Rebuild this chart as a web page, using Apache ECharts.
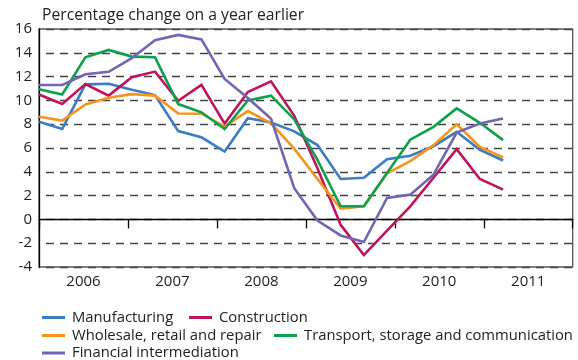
<!DOCTYPE html>
<html>
<head>
<meta charset="utf-8">
<script src="https://cdn.jsdelivr.net/npm/echarts@6/dist/echarts.min.js"></script>
<style>
  html, body { margin: 0; padding: 0; background: #fff; }
  #chart { width: 578px; height: 360px; }
</style>
</head>
<body>
<div id="chart"></div>
<script>
// Quarterly growth by sector, 2006 Q1 – 2011 Q1
const years = ['2006', '2007', '2008', '2009', '2010', '2011'];
const quarters = [
  '2006 Q1', '2006 Q2', '2006 Q3', '2006 Q4',
  '2007 Q1', '2007 Q2', '2007 Q3', '2007 Q4',
  '2008 Q1', '2008 Q2', '2008 Q3', '2008 Q4',
  '2009 Q1', '2009 Q2', '2009 Q3', '2009 Q4',
  '2010 Q1', '2010 Q2', '2010 Q3', '2010 Q4',
  '2011 Q1'
];
const yTicks = { min: -4, max: 16, step: 2 };

const manufacturing = [8.2, 7.6, 11.35, 11.4, 10.9, 10.45, 7.42, 6.9, 5.7, 8.5, 8.15, 7.4, 6.25, 3.4, 3.5, 5.05, 5.35, 6.15, 7.36, 5.85, 4.95];
const construction = [10.5, 9.7, 11.38, 10.4, 11.95, 12.42, 9.97, 11.3, 8.05, 10.7, 11.6, 8.7, 4.3, -0.45, -3.0, -0.95, 1.1, 3.5, 5.9, 3.4, 2.5];
const wholesale = [8.62, 8.3, 9.66, 10.22, 10.53, 10.4, 8.9, 8.88, 7.8, 9.1, 8.07, 5.95, 3.4, 0.9, 1.1, 3.87, 4.9, 6.24, 8.0, 6.1, 5.2];
const transport = [10.93, 10.5, 13.62, 14.24, 13.68, 13.62, 9.69, 9.0, 7.6, 10.0, 10.4, 8.4, 5.0, 1.1, 1.1, 3.9, 6.7, 7.78, 9.33, 8.12, 6.66];
const financial = [11.3, 11.3, 12.2, 12.4, 13.55, 15.05, 15.5, 15.13, 11.8, 10.2, 8.45, 2.62, -0.1, -1.35, -1.9, 1.8, 2.08, 3.76, 7.3, 8.06, 8.48];

const seriesDefs = [
  { name: 'Manufacturing', values: manufacturing, color: '#3a7dc6' },
  { name: 'Construction', values: construction, color: '#c0135c' },
  { name: 'Wholesale, retail and repair', values: wholesale, color: '#f7941d' },
  { name: 'Transport, storage and communication', values: transport, color: '#0ea04b' },
  { name: 'Financial intermediation', values: financial, color: '#7166b4' }
];

const FONT = '"Open Sans", "Noto Sans", sans-serif';
const TEXT = '#222';

const chart = echarts.init(document.getElementById('chart'), null, { renderer: 'canvas' });

// one legend per entry so each can sit in its own row / column
const legendSlots = [
  { left: 42, top: 310 },
  { left: 189, top: 310 },
  { left: 42, top: 328 },
  { left: 274, top: 328 },
  { left: 42, top: 345.5 }
];
const legends = seriesDefs.map((s, i) => ({
  data: [s.name],
  left: legendSlots[i].left,
  top: legendSlots[i].top,
  padding: 0,
  icon: 'rect',
  itemWidth: 23,
  itemHeight: 3,
  selectedMode: false,
  textStyle: { fontFamily: FONT, fontSize: 14.8, color: TEXT, padding: [0, 0, 0, 2] }
}));

const series = seriesDefs.map((s, i) => ({
  name: s.name,
  type: 'line',
  xAxisIndex: 1,
  yAxisIndex: 0,
  // x = quarter index on the hidden linear axis
  data: s.values.map((v, k) => [k, v]),
  showSymbol: false,
  symbol: 'none',
  lineStyle: { color: s.color, width: 2.6, join: 'miter' },
  itemStyle: { color: s.color },
  z: 3 + i,
  animation: false,
  markLine: i === 0 ? {
    silent: true,
    symbol: 'none',
    label: { show: false },
    lineStyle: { color: '#000', type: 'solid', width: 1 },
    data: [{ yAxis: 0 }],
    z: 2
  } : undefined
}));

chart.setOption({
  animation: false,
  title: {
    text: 'Percentage change on a year earlier',
    left: 37,
    top: 3,
    textStyle: { fontFamily: FONT, fontSize: 15.7, fontWeight: 'normal', color: TEXT }
  },
  legend: legends,
  grid: {
    left: 39, right: 5.3, top: 29, bottom: 93,
    show: true, borderColor: '#555', borderWidth: 1.3, backgroundColor: 'transparent'
  },
  xAxis: [
    {
      type: 'category',
      data: years,
      boundaryGap: true,
      axisLine: { lineStyle: { color: '#000', width: 1.3 } },
      axisTick: { show: true, inside: false, length: 9, lineStyle: { color: '#000', width: 1.3 } },
      axisLabel: { fontFamily: FONT, fontSize: 15, color: TEXT, margin: 7 },
      splitLine: { show: false }
    },
    {
      // quarters span the full width: 21 points plus two empty quarters of 2011
      type: 'value',
      min: 0,
      max: quarters.length + 2,
      show: false
    }
  ],
  yAxis: {
    type: 'value',
    min: yTicks.min,
    max: yTicks.max,
    interval: yTicks.step,
    axisLine: { show: true, lineStyle: { color: '#000', width: 1.3 } },
    axisTick: { show: false },
    axisLabel: { fontFamily: FONT, fontSize: 15, color: TEXT, margin: 7 },
    splitLine: { show: true, lineStyle: { color: '#444', width: 1.3, type: [8, 6], dashOffset: -7 } }
  },
  series: series
});
</script>
</body>
</html>
